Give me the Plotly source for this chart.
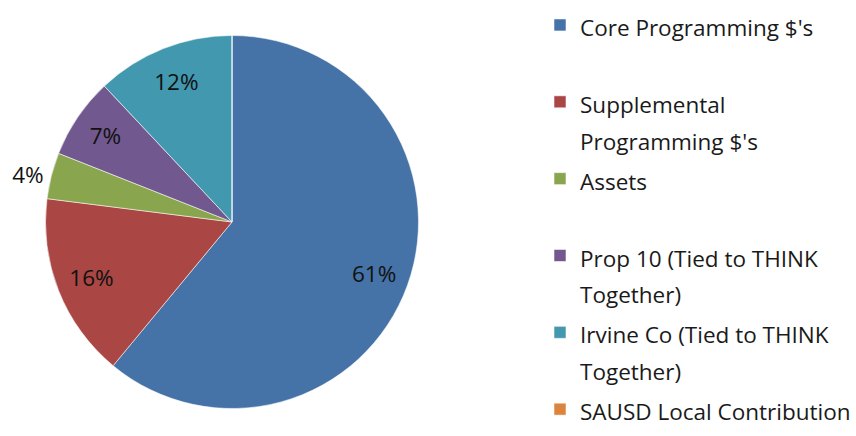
import plotly.graph_objects as go

# ---- data ----
categories = [
    "Core Programming $'s",
    "Supplemental Programming $'s",
    "Assets",
    "Prop 10 (Tied to THINK Together)",
    "Irvine Co (Tied to THINK Together)",
    "SAUSD Local Contribution",
]
values = [61, 16, 4, 7, 12, 0]
legend_lines = [
    ["Core Programming $'s"],
    ["Supplemental", "Programming $'s"],
    ["Assets"],
    ["Prop 10 (Tied to THINK", "Together)"],
    ["Irvine Co (Tied to THINK", "Together)"],
    ["SAUSD Local Contribution"],
]
label_positions = ["inside", "inside", "outside", "inside", "inside", "none"]

# ---- styling ----
colors = ["#4572A7", "#AA4643", "#89A54E", "#71588F", "#4198AF", "#DB843D"]
W, H = 856, 436
FONT = "Open Sans"
GLYPH = 22.5          # visible text size
SPACING_FONT = 28.4   # legend font size (sets line spacing)
SLOT_LINES = 2

def legend_label(lines, last):
    rows = list(lines)
    if not last:
        rows += ["\u00a0"] * (SLOT_LINES - len(rows))
    return "<br>".join(f'<span style="font-size:{GLYPH}px">{r}</span>' for r in rows)

labels = [legend_label(l, i == len(legend_lines) - 1) for i, l in enumerate(legend_lines)]

# pie geometry (pixels)
cx, cy, R = 232, 222, 186.5
dom_x = [(cx - R) / W, (cx + R) / W]
dom_y = [(H - (cy + R)) / H, (H - (cy - R)) / H]

fig = go.Figure()
fig.add_trace(go.Pie(
    labels=labels,
    values=values,
    customdata=categories,
    sort=False,
    direction="clockwise",
    rotation=0,
    domain=dict(x=dom_x, y=dom_y),
    marker=dict(colors=colors, line=dict(color="rgba(255,255,255,0.55)", width=1)),
    textinfo="none",
    hovertemplate="%{customdata}: %{percent:.0%}<extra></extra>",
    showlegend=True,
))
# transparent overlay carrying the percentage labels (ring keeps them near the rim)
fig.add_trace(go.Pie(
    labels=labels,
    values=values,
    sort=False,
    direction="clockwise",
    rotation=0,
    hole=0.62,
    domain=dict(x=dom_x, y=dom_y),
    marker=dict(colors=["rgba(0,0,0,0)"] * len(values), line=dict(width=0)),
    texttemplate="%{percent:.0%}",
    textposition=label_positions,
    insidetextorientation="horizontal",
    textfont=dict(family=FONT, size=GLYPH, color="#111111"),
    hoverinfo="skip",
    showlegend=False,
))

fig.update_layout(
    width=W, height=H,
    margin=dict(l=0, r=0, t=0, b=0),
    paper_bgcolor="white",
    plot_bgcolor="white",
    font=dict(family=FONT, color="#1a1a1a"),
    legend=dict(
        x=540 / W, y=1, xanchor="left", yanchor="top",
        font=dict(family=FONT, size=SPACING_FONT, color="#1a1a1a"),
        valign="top",
        bgcolor="rgba(0,0,0,0)",
        traceorder="normal",
    ),
)

fig.write_html(
    "out.html",
    config={"displayModeBar": False},
    post_script="document.body.style.margin='0';document.body.style.overflow='hidden';",
)
